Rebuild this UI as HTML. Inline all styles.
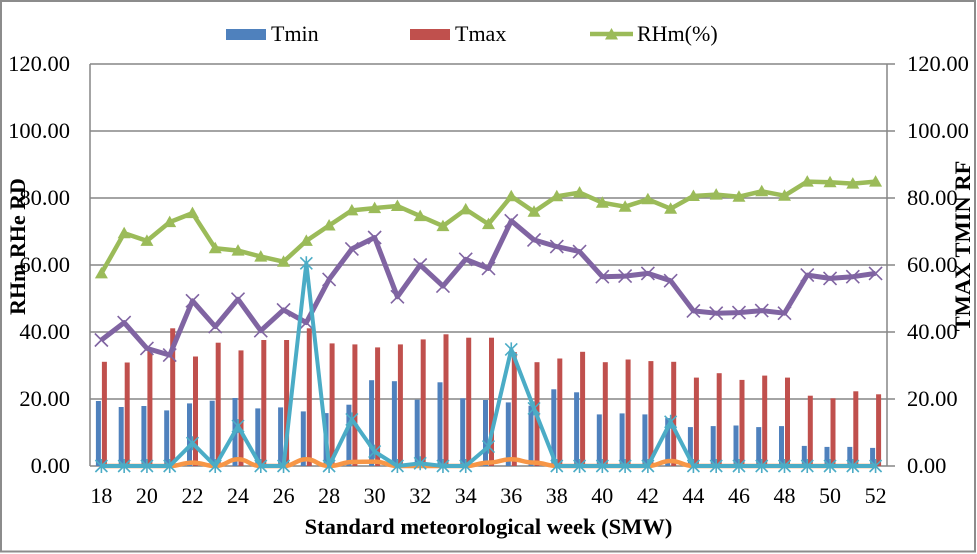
<!DOCTYPE html>
<html><head><meta charset="utf-8"><style>
html,body{margin:0;padding:0;background:#fff;}
svg{display:block;}
text{font-family:"Liberation Serif","Times New Roman",serif;fill:#000;}
</style></head><body>
<svg width="977" height="554" viewBox="0 0 977 554" xmlns="http://www.w3.org/2000/svg">
<defs>
<marker id="tri" markerUnits="userSpaceOnUse" markerWidth="14" markerHeight="13" refX="6.5" refY="7" orient="0" overflow="visible">
<path d="M0,12 L6.5,0.5 L13,12 Z" fill="#9BBB59"/>
</marker>
<marker id="xm" markerUnits="userSpaceOnUse" markerWidth="14" markerHeight="14" refX="7" refY="7" orient="0" overflow="visible">
<path d="M0.5,0.5 L13.5,13.5 M13.5,0.5 L0.5,13.5" stroke="#8064A2" stroke-width="1.6" fill="none"/>
</marker>
<marker id="st" markerUnits="userSpaceOnUse" markerWidth="14" markerHeight="14" refX="7" refY="7" orient="0" overflow="visible">
<path d="M1,1 L13,13 M13,1 L1,13 M7,0 L7,14" stroke="#4BACC6" stroke-width="1.6" fill="none"/>
</marker>
</defs>
<rect x="0" y="0" width="977" height="554" fill="#fff"/>
<rect x="1" y="1" width="974" height="550.5" fill="none" stroke="#8c8c8c" stroke-width="2"/>

<!-- gridlines -->
<g stroke="#868686" stroke-width="1.5">
<line x1="90" y1="64" x2="895" y2="64"/>
<line x1="90" y1="131" x2="895" y2="131"/>
<line x1="90" y1="198" x2="895" y2="198"/>
<line x1="90" y1="265" x2="895" y2="265"/>
<line x1="90" y1="332" x2="895" y2="332"/>
<line x1="90" y1="399" x2="895" y2="399"/>
<line x1="90" y1="466" x2="895" y2="466"/>
<line x1="90" y1="64" x2="90" y2="466"/>
<line x1="887" y1="64" x2="887" y2="466"/>
</g>

<!-- bars -->
<g fill="#4F81BD">
<rect x="95.9" y="401.0" width="5" height="65"/>
<rect x="118.7" y="407.0" width="5" height="59"/>
<rect x="141.4" y="406.0" width="5" height="60"/>
<rect x="164.2" y="410.4" width="5" height="55.6"/>
<rect x="187.0" y="403.4" width="5" height="62.6"/>
<rect x="209.7" y="400.7" width="5" height="65.3"/>
<rect x="232.5" y="398.0" width="5" height="68"/>
<rect x="255.3" y="408.4" width="5" height="57.6"/>
<rect x="278.1" y="407.4" width="5" height="58.6"/>
<rect x="300.8" y="411.4" width="5" height="54.6"/>
<rect x="323.6" y="413.1" width="5" height="52.9"/>
<rect x="346.4" y="404.7" width="5" height="61.3"/>
<rect x="369.1" y="380.2" width="5" height="85.8"/>
<rect x="391.9" y="381.2" width="5" height="84.8"/>
<rect x="414.7" y="399.7" width="5" height="66.3"/>
<rect x="437.5" y="382.3" width="5" height="83.7"/>
<rect x="460.2" y="398.3" width="5" height="67.7"/>
<rect x="483.0" y="400.0" width="5" height="66"/>
<rect x="505.8" y="402.4" width="5" height="63.6"/>
<rect x="528.5" y="405.7" width="5" height="60.3"/>
<rect x="551.3" y="389.3" width="5" height="76.7"/>
<rect x="574.1" y="392.3" width="5" height="73.7"/>
<rect x="596.8" y="414.4" width="5" height="51.6"/>
<rect x="619.6" y="413.4" width="5" height="52.6"/>
<rect x="642.4" y="414.4" width="5" height="51.6"/>
<rect x="665.2" y="418.1" width="5" height="47.9"/>
<rect x="687.9" y="427.1" width="5" height="38.9"/>
<rect x="710.7" y="426.1" width="5" height="39.9"/>
<rect x="733.5" y="425.5" width="5" height="40.5"/>
<rect x="756.2" y="427.1" width="5" height="38.9"/>
<rect x="779.0" y="426.1" width="5" height="39.9"/>
<rect x="801.8" y="445.9" width="5" height="20.1"/>
<rect x="824.5" y="446.9" width="5" height="19.1"/>
<rect x="847.3" y="446.9" width="5" height="19.1"/>
<rect x="870.1" y="447.9" width="5" height="18.1"/>
</g>
<g fill="#C0504D">
<rect x="101.9" y="361.8" width="5" height="104.2"/>
<rect x="124.7" y="362.5" width="5" height="103.5"/>
<rect x="147.4" y="348.8" width="5" height="117.2"/>
<rect x="170.2" y="328.3" width="5" height="137.7"/>
<rect x="193.0" y="356.5" width="5" height="109.5"/>
<rect x="215.7" y="342.7" width="5" height="123.3"/>
<rect x="238.5" y="350.4" width="5" height="115.6"/>
<rect x="261.3" y="340.0" width="5" height="126"/>
<rect x="284.1" y="340.0" width="5" height="126"/>
<rect x="306.8" y="328.3" width="5" height="137.7"/>
<rect x="329.6" y="343.4" width="5" height="122.6"/>
<rect x="352.4" y="344.4" width="5" height="121.6"/>
<rect x="375.1" y="347.4" width="5" height="118.6"/>
<rect x="397.9" y="344.4" width="5" height="121.6"/>
<rect x="420.7" y="339.4" width="5" height="126.6"/>
<rect x="443.5" y="334.3" width="5" height="131.7"/>
<rect x="466.2" y="337.7" width="5" height="128.3"/>
<rect x="489.0" y="337.7" width="5" height="128.3"/>
<rect x="511.8" y="352.1" width="5" height="113.9"/>
<rect x="534.5" y="362.2" width="5" height="103.8"/>
<rect x="557.3" y="358.5" width="5" height="107.5"/>
<rect x="580.1" y="351.8" width="5" height="114.2"/>
<rect x="602.8" y="362.2" width="5" height="103.8"/>
<rect x="625.6" y="359.5" width="5" height="106.5"/>
<rect x="648.4" y="361.1" width="5" height="104.9"/>
<rect x="671.2" y="361.8" width="5" height="104.2"/>
<rect x="693.9" y="377.6" width="5" height="88.4"/>
<rect x="716.7" y="373.2" width="5" height="92.8"/>
<rect x="739.5" y="379.9" width="5" height="86.1"/>
<rect x="762.2" y="375.6" width="5" height="90.4"/>
<rect x="785.0" y="377.6" width="5" height="88.4"/>
<rect x="807.8" y="395.7" width="5" height="70.3"/>
<rect x="830.5" y="398.3" width="5" height="67.7"/>
<rect x="853.3" y="391.3" width="5" height="74.7"/>
<rect x="876.1" y="394.3" width="5" height="71.7"/>
</g>

<!-- RHm green -->
<polyline fill="none" stroke="#9BBB59" stroke-width="4.5" stroke-linejoin="round" marker-start="url(#tri)" marker-mid="url(#tri)" marker-end="url(#tri)"
points="101.39,273.4 124.16,233.2 146.93,240.9 169.70,222.1 192.47,213.1 215.24,248.3 238.01,250.6 260.78,256.6 283.55,261.7 306.33,240.9 329.10,225.5 351.87,210.4 374.64,208.1 397.41,206.0 420.18,216.1 442.95,226.1 465.72,209.4 488.49,224.1 511.26,196.3 534.03,211.7 556.80,196.3 579.57,192.6 602.34,202.7 625.11,206.7 647.88,199.3 670.65,208.7 693.42,196.0 716.19,194.6 738.96,196.7 761.73,191.3 784.50,195.7 807.27,181.6 830.04,182.3 852.81,183.6 875.58,181.6"/>

<!-- purple -->
<polyline fill="none" stroke="#8064A2" stroke-width="5" stroke-linejoin="round" marker-start="url(#xm)" marker-mid="url(#xm)" marker-end="url(#xm)"
points="101.39,340.0 124.16,322.6 146.93,348.4 169.70,355.1 192.47,300.8 215.24,326.6 238.01,299.2 260.78,330.7 283.55,309.9 306.33,322.6 329.10,279.4 351.87,248.9 374.64,237.5 397.41,296.8 420.18,265.0 442.95,286.1 465.72,259.3 488.49,268.4 511.26,220.8 534.03,239.9 556.80,246.6 579.57,251.6 602.34,276.7 625.11,276.1 647.88,273.4 670.65,280.7 693.42,310.9 716.19,313.2 738.96,312.6 761.73,310.6 784.50,313.2 807.27,275.1 830.04,278.4 852.81,276.7 875.58,273.4"/>

<!-- orange smoothed -->
<path fill="none" stroke="#F79646" stroke-width="4.5" stroke-linejoin="round"
d="M101.39,466 L169.7,466 C180,466 182,462.6 192.47,462.6 C203,462.6 205,466 215.24,466 C226,466 228,459.3 238.01,459.3 C248,459.3 250,466 260.78,466 L283.55,466 C294,466 296,459.3 306.33,459.3 C316,459.3 318,466 329.1,466 C340,466 342,462 351.87,462 C362,462 364,461.6 374.64,461.6 C385,461.6 387,466 397.41,466 L465.72,466 C476,466 478,462.6 488.49,462.6 C499,462.6 501,459.3 511.26,459.3 C521,459.3 523,462.6 534.03,462.6 C545,462.6 547,466 556.8,466 L647.88,466 C658,466 660,461 670.65,461 C681,461 683,466 693.42,466 L875.58,466"/>

<!-- teal -->
<polyline fill="none" stroke="#4BACC6" stroke-width="4" stroke-linejoin="round" marker-start="url(#st)" marker-mid="url(#st)" marker-end="url(#st)"
points="101.39,466 124.16,466 146.93,466 169.70,466 192.47,443.2 215.24,466 238.01,426.1 260.78,466 283.55,466 306.33,263.3 329.10,466 351.87,419.4 374.64,451.6 397.41,466 420.18,463.3 442.95,466 465.72,466 488.49,446.6 511.26,349.4 534.03,408.4 556.80,466 579.57,466 602.34,466 625.11,466 647.88,466 670.65,421.8 693.42,466 716.19,466 738.96,466 761.73,466 784.50,466 807.27,466 830.04,466 852.81,466 875.58,466"/>

<!-- left tick labels -->
<g font-size="22.5" text-anchor="end">
<text x="70" y="71">120.00</text>
<text x="70" y="138">100.00</text>
<text x="70" y="205">80.00</text>
<text x="70" y="272">60.00</text>
<text x="70" y="339">40.00</text>
<text x="70" y="406">20.00</text>
<text x="70" y="473">0.00</text>
</g>
<!-- right tick labels -->
<g font-size="22.5" text-anchor="start">
<text x="907" y="71">120.00</text>
<text x="907" y="138">100.00</text>
<text x="907" y="205">80.00</text>
<text x="907" y="272">60.00</text>
<text x="907" y="339">40.00</text>
<text x="907" y="406">20.00</text>
<text x="907" y="473">0.00</text>
</g>
<!-- x labels -->
<g font-size="22" text-anchor="middle">
<text x="101.4" y="503">18</text>
<text x="146.9" y="503">20</text>
<text x="192.5" y="503">22</text>
<text x="238.0" y="503">24</text>
<text x="283.6" y="503">26</text>
<text x="329.1" y="503">28</text>
<text x="374.6" y="503">30</text>
<text x="420.2" y="503">32</text>
<text x="465.7" y="503">34</text>
<text x="511.3" y="503">36</text>
<text x="556.8" y="503">38</text>
<text x="602.3" y="503">40</text>
<text x="647.9" y="503">42</text>
<text x="693.4" y="503">44</text>
<text x="739.0" y="503">46</text>
<text x="784.5" y="503">48</text>
<text x="830.0" y="503">50</text>
<text x="875.6" y="503">52</text>
</g>

<!-- axis titles -->
<text x="488.5" y="534" font-size="22.5" font-weight="bold" text-anchor="middle">Standard meteorological week (SMW)</text>
<text transform="translate(25,246.5) rotate(-90)" font-size="22" font-weight="bold" text-anchor="middle">RHm RHe RD</text>
<text transform="translate(970,246) rotate(-90)" font-size="22.5" font-weight="bold" text-anchor="middle">TMAX TMIN RF</text>

<!-- legend -->
<rect x="226" y="29" width="40" height="11" fill="#4F81BD"/>
<text x="271" y="41" font-size="22">Tmin</text>
<rect x="410" y="29" width="40" height="11" fill="#C0504D"/>
<text x="455" y="41" font-size="22">Tmax</text>
<line x1="590" y1="34" x2="633" y2="34" stroke="#9BBB59" stroke-width="4.5"/>
<path d="M605,39.5 L611.5,28 L618,39.5 Z" fill="#9BBB59"/>
<text x="637" y="41" font-size="22">RHm(%)</text>
</svg>
</body></html>
